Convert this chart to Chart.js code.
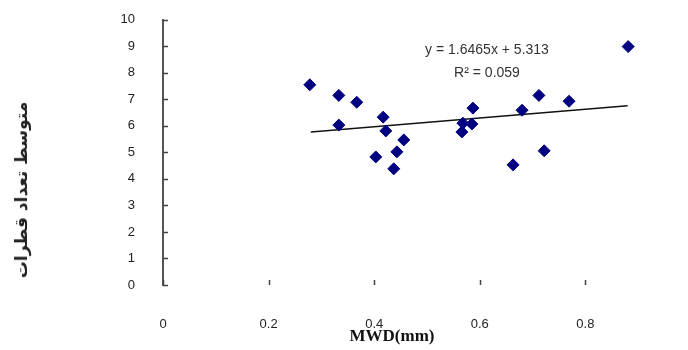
<!DOCTYPE html>
<html>
<head>
<meta charset="utf-8">
<script src="https://cdn.jsdelivr.net/npm/chart.js@4/dist/chart.umd.min.js"></script>
<style>
  html, body { margin: 0; padding: 0; background: #fff; overflow: hidden; }
  #wrap { position: relative; width: 700px; height: 350px; overflow: hidden; }
  #c { position: absolute; left: 0; top: -8px; }
  .lbl { position: absolute; white-space: nowrap; color: #222; }
  #ytitle { left: 21px; top: 190px; transform: translate(-50%, -50%) rotate(-90deg);
            font: bold 17px "DejaVu Sans", sans-serif; direction: rtl; }
  #xtitle { left: 392px; top: 336px; transform: translate(-50%, -50%);
            font: bold 17px "Liberation Serif", serif; color: #111; }
  .eq { transform: translate(-50%, -50%); font: 14px "Liberation Sans", Arial, sans-serif; color: #333; }
</style>
</head>
<body>
<div id="wrap">
  <canvas id="c" width="700" height="358"></canvas>
  <div class="lbl" id="ytitle">متوسط تعداد قطرات</div>
  <div class="lbl" id="xtitle">MWD(mm)</div>
  <div class="lbl eq" style="left:487px; top:49px;">y = 1.6465x + 5.313</div>
  <div class="lbl eq" style="left:487px; top:72px;">R² = 0.059</div>
</div>
<script>
// MWD (mm) vs mean drop count
const mwd   = [0.278, 0.333, 0.367, 0.333, 0.417, 0.422, 0.456, 0.443, 0.403, 0.437,
               0.587, 0.568, 0.585, 0.566, 0.881, 0.712, 0.769, 0.680, 0.722, 0.663];
const drops = [7.55, 7.15, 6.89, 6.03, 6.33, 5.81, 5.47, 5.02, 4.83, 4.38,
               6.67, 6.10, 6.07, 5.77, 8.99, 7.15, 6.93, 6.59, 5.06, 4.53];

// linear trend line end points
const trendX = [0.28, 0.88];
const trendY = [5.77, 6.76];

const xTicks = [0, 0.2, 0.4, 0.6, 0.8];
const yTicks = [0, 1, 2, 3, 4, 5, 6, 7, 8, 9, 10];

const tickFont = { family: "'Liberation Sans', Arial, sans-serif", size: 13 };

// Excel-style inward tick marks
const innerTicks = {
  id: "innerTicks",
  afterDraw(chart) {
    const { ctx, scales: { x, y } } = chart;
    ctx.save();
    ctx.strokeStyle = "#444";
    ctx.lineWidth = 1.5;
    yTicks.forEach(v => {
      const py = Math.round(y.getPixelForValue(v)) + 0.5;
      ctx.beginPath();
      ctx.moveTo(x.left, py);
      ctx.lineTo(x.left + 5, py);
      ctx.stroke();
    });
    xTicks.forEach(v => {
      const px = Math.round(x.getPixelForValue(v)) + 0.5;
      ctx.beginPath();
      ctx.moveTo(px, y.bottom);
      ctx.lineTo(px, y.bottom - 5);
      ctx.stroke();
    });
    ctx.restore();
  }
};

new Chart(document.getElementById("c"), {
  type: "scatter",
  data: {
    datasets: [
      {
        type: "line",
        data: trendX.map((v, i) => ({ x: v, y: trendY[i] })),
        borderColor: "#111",
        borderWidth: 1.5,
        pointRadius: 0,
        fill: false,
        order: 2
      },
      {
        data: mwd.map((v, i) => ({ x: v, y: drops[i] })),
        pointStyle: "rectRot",
        pointRadius: 6,
        backgroundColor: "#000080",
        borderColor: "#000080",
        borderWidth: 1,
        order: 1
      }
    ]
  },
  options: {
    responsive: false,
    animation: false,
    layout: { padding: { top: 18, right: 9, left: 0, bottom: 0 } },
    plugins: { legend: { display: false }, tooltip: { enabled: false } },
    scales: {
      x: {
        type: "linear",
        min: 0,
        max: 1,
        afterBuildTicks: s => { s.ticks = xTicks.map(v => ({ value: v })); },
        ticks: { color: "#222", font: tickFont, padding: 24 },
        grid: { display: false },
        border: { display: false },
        afterFit: s => { s.height = 65; }
      },
      y: {
        min: 0,
        max: 10,
        afterBuildTicks: s => { s.ticks = yTicks.map(v => ({ value: v })); },
        ticks: { color: "#222", font: tickFont, padding: 20 },
        grid: { display: false },
        border: { display: true, color: "#555", width: 2 },
        afterFit: s => { s.width = 163; }
      }
    }
  },
  plugins: [innerTicks]
});
</script>
</body>
</html>
